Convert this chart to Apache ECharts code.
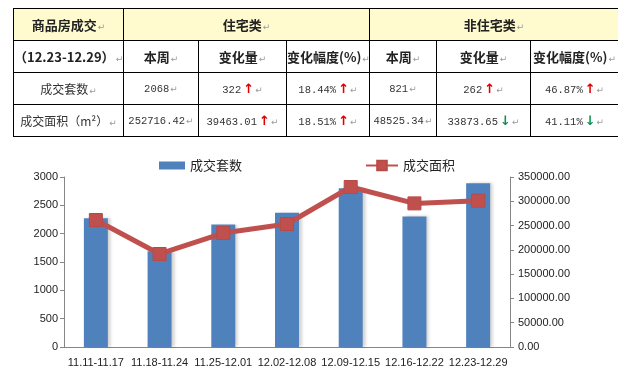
<!DOCTYPE html>
<html>
<head>
<meta charset="utf-8">
<script src="https://cdn.jsdelivr.net/npm/echarts@6/dist/echarts.min.js"></script>
<style>
  html, body { margin: 0; padding: 0; background: #fff; }
  #wrap { position: relative; width: 618px; height: 372px; overflow: hidden; }
  #chart { position: absolute; left: 0; top: 0; width: 618px; height: 372px; }
  table { position: absolute; left: 13px; top: 8px; border-collapse: collapse; table-layout: fixed; width: 605px;
          font-family: "Noto Sans CJK SC", sans-serif; color: #222; z-index: 2; }
  td { border: 1px solid #000; height: 31px; padding: 0; text-align: center; font-size: 12px; white-space: nowrap; overflow: hidden; }
  tr.h1 td { background: #FFFBCF; font-weight: bold; font-size: 13px; }
  tr.h2 td { font-weight: bold; font-size: 13px; }
  .num { font-family: "Liberation Mono", "DejaVu Sans Mono", monospace; font-size: 10.5px; color: #333; }
  .pm { color: #9a9a9a; font-family: "DejaVu Sans", sans-serif; font-size: 9px; font-weight: normal; margin-left: 1px; }
  .up { color: #E00000; font-weight: bold; font-family: "DejaVu Sans", sans-serif; font-size: 13px; margin-left: 2px; }
  .down { color: #109050; font-weight: bold; font-family: "DejaVu Sans", sans-serif; font-size: 13px; margin-left: 2px; }
  .rn { font-size: 12px; color: #333; }
  .par { letter-spacing: -3px; }
</style>
</head>
<body>
<div id="wrap">
  <div id="chart"></div>
  <table id="tbl">
    <colgroup>
      <col style="width:110px"><col style="width:75px"><col style="width:88px"><col style="width:83px">
      <col style="width:67px"><col style="width:94px"><col style="width:88px">
    </colgroup>
    <tbody></tbody>
  </table>
</div>
<script>
// ---- chart data ----
const categories = ['11.11-11.17', '11.18-11.24', '11.25-12.01', '12.02-12.08', '12.09-12.15', '12.16-12.22', '12.23-12.29'];
const tradeCounts = [2270, 1690, 2160, 2370, 2800, 2305, 2889];
const tradeAreas = [261500, 191500, 234700, 253200, 329400, 295652.40, 301241.76];
const countTicks = [0, 3000, 500];
const areaTicks = [0, 350000, 50000];
const seriesNames = ['成交套数', '成交面积'];

// ---- table data ----
const tableTitle = '商品房成交';
const tablePeriod = '（12.23-12.29）';
const groupNames = ['住宅类', '非住宅类'];
const subHeaders = ['本周', '变化量', '变化幅度(%)'];
const rowNames = ['成交套数', '成交面积（m²）'];
const resThisWeek = ['2068', '252716.42'];
const resChange = ['322', '39463.01'];
const resChangeDir = ['up', 'up'];
const resPct = ['18.44%', '18.51%'];
const resPctDir = ['up', 'up'];
const nonResThisWeek = ['821', '48525.34'];
const nonResChange = ['262', '33873.65'];
const nonResChangeDir = ['up', 'down'];
const nonResPct = ['46.87%', '41.11%'];
const nonResPctDir = ['up', 'down'];

// build table
const PM = '<span class="pm">↵</span>';
const arrow = d => d === 'up' ? '<span class="up">↑</span>' : '<span class="down">↓</span>';
let html = '';
html += '<tr class="h1"><td>' + tableTitle + PM + '</td><td colspan="3">' + groupNames[0] + PM + '</td><td colspan="3">' + groupNames[1] + PM + '</td></tr>';
html += '<tr class="h2"><td>' + tablePeriod + PM + '</td>';
for (let g = 0; g < 2; g++) for (const s of subHeaders) html += '<td>' + s + PM + '</td>';
html += '</tr>';
for (let i = 0; i < rowNames.length; i++) {
  html += '<tr><td class="rn">' + rowNames[i] + PM + '</td>';
  html += '<td class="num">' + resThisWeek[i] + PM + '</td>';
  html += '<td class="num">' + resChange[i] + arrow(resChangeDir[i]) + PM + '</td>';
  html += '<td class="num">' + resPct[i] + arrow(resPctDir[i]) + PM + '</td>';
  html += '<td class="num">' + nonResThisWeek[i] + PM + '</td>';
  html += '<td class="num">' + nonResChange[i] + arrow(nonResChangeDir[i]) + PM + '</td>';
  html += '<td class="num">' + nonResPct[i] + arrow(nonResPctDir[i]) + PM + '</td>';
  html += '</tr>';
}
document.querySelector('#tbl tbody').innerHTML = html;

// ---- chart ----
const chart = echarts.init(document.getElementById('chart'), null, { renderer: 'canvas' });
const axisColor = '#868686';
const labelFont = { fontFamily: 'Liberation Sans, Arial, sans-serif', fontSize: 11, color: '#222' };
chart.setOption({
  animation: false,
  grid: { left: 64, right: 108, top: 177, bottom: 25 },
  legend: [
    { data: [seriesNames[0]], left: 154, top: 154, itemWidth: 26, itemHeight: 8, icon: 'rect',
      textStyle: { fontFamily: 'Noto Sans CJK SC', fontSize: 13, color: '#222' } },
    { data: [seriesNames[1]], left: 360, top: 154, itemWidth: 32, itemHeight: 12,
      textStyle: { fontFamily: 'Noto Sans CJK SC', fontSize: 13, color: '#222' } }
  ],
  xAxis: {
    type: 'category', data: categories,
    axisLine: { lineStyle: { color: axisColor } },
    axisTick: { length: 5, lineStyle: { color: axisColor } },
    axisLabel: Object.assign({ margin: 10, interval: 0 }, labelFont)
  },
  yAxis: [
    { type: 'value', min: countTicks[0], max: countTicks[1], interval: countTicks[2],
      axisLine: { show: true, lineStyle: { color: axisColor } },
      axisTick: { show: true, length: 4, lineStyle: { color: axisColor } },
      splitLine: { show: false },
      axisLabel: Object.assign({ margin: 6, formatter: v => String(v) }, labelFont) },
    { type: 'value', min: areaTicks[0], max: areaTicks[1], interval: areaTicks[2], position: 'right',
      axisLine: { show: true, lineStyle: { color: axisColor } },
      axisTick: { show: true, length: 4, lineStyle: { color: axisColor } },
      splitLine: { show: false },
      axisLabel: Object.assign({ margin: 8, formatter: v => v.toFixed(2) }, labelFont) }
  ],
  series: [
    { name: seriesNames[0], type: 'bar', yAxisIndex: 0, data: tradeCounts, barWidth: 24,
      itemStyle: { color: '#4F81BD', shadowColor: 'rgba(0,0,0,0.18)', shadowBlur: 3, shadowOffsetX: 3, shadowOffsetY: 0 } },
    { name: seriesNames[1], type: 'line', yAxisIndex: 1, data: tradeAreas,
      symbol: 'rect', symbolSize: 13,
      lineStyle: { color: '#C0504D', width: 5 },
      itemStyle: { color: '#C0504D', borderColor: '#B84A47', borderWidth: 1 } }
  ]
});
</script>
</body>
</html>
